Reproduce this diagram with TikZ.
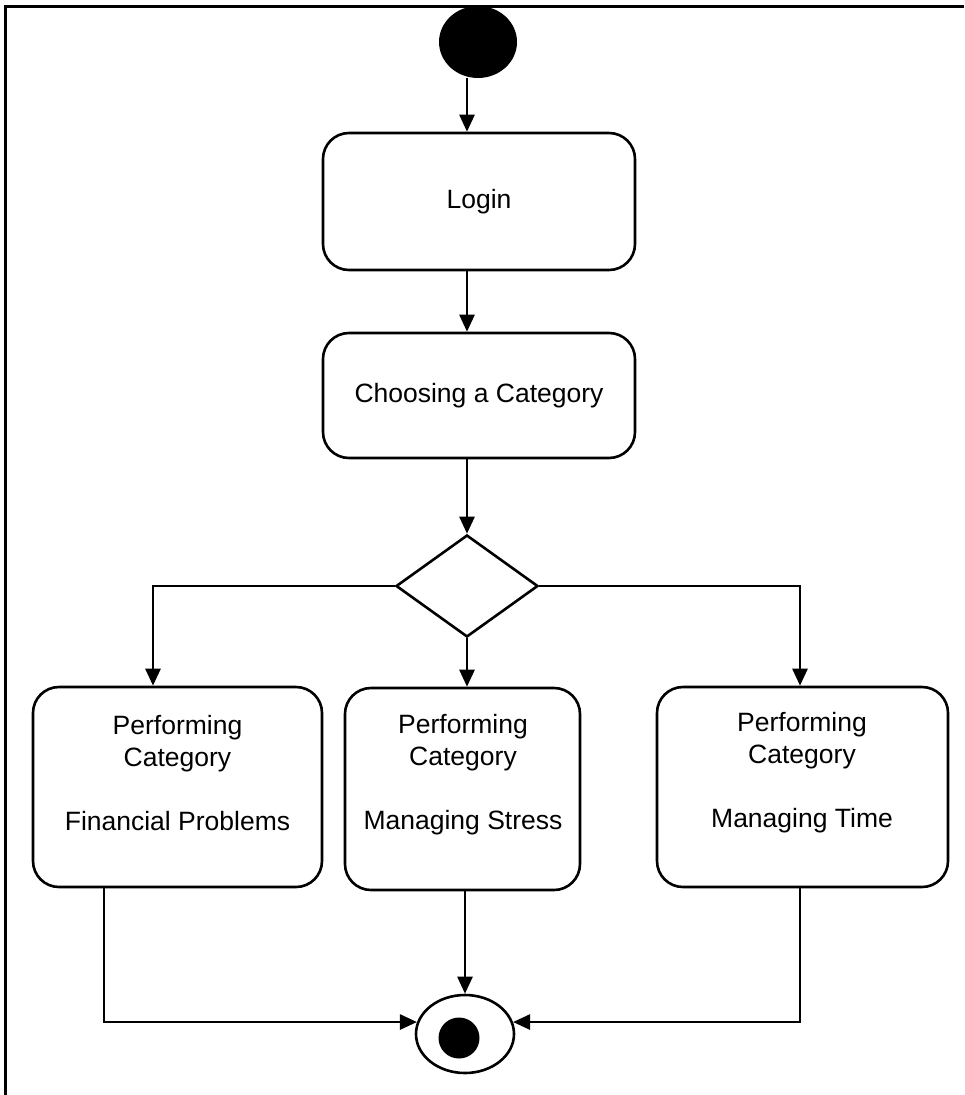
\documentclass[tikz,border=0pt]{standalone}
\usepackage{fontspec}
\setmainfont{Liberation Sans}
\usetikzlibrary{shapes.geometric,arrows.meta}
\begin{document}
\begin{tikzpicture}[x=1pt,y=-1pt,
  every node/.style={font=\fontsize{26.5}{32}\selectfont},
  actbox/.style={draw,line width=2.6pt,rectangle,rounded corners=26pt,inner sep=0pt},
  lbl/.style={align=center,inner sep=0pt},
  arr/.style={line width=2.6pt,-{Triangle[length=17pt,width=15pt]}}]
\useasboundingbox (0,0) rectangle (964,1095);
\draw[line width=3pt] (5,1095) -- (5,6) -- (964,6);
% start
\node[ellipse,fill=black,inner sep=0pt,minimum width=78pt,minimum height=72pt] (start) at (478,42) {};
% boxes
\node[actbox,minimum width=312pt,minimum height=137pt] (login) at (479,201.5) {Login};
\node[actbox,minimum width=312pt,minimum height=125pt] (choose) at (479,395.5) {Choosing a Category};
\node[diamond,draw,line width=2.6pt,inner sep=0pt,aspect=1.4,minimum width=142pt,minimum height=102pt] (dia) at (467,586) {};
\node[actbox,minimum width=289pt,minimum height=200pt] (fin) at (177.5,787) {};
\node[actbox,minimum width=235pt,minimum height=202pt] (mid) at (462.5,789) {};
\node[actbox,minimum width=291pt,minimum height=200pt] (rt) at (802.5,787) {};
\node[lbl] (fintext) at (177.5,773) {Performing\\Category\\[32pt]Financial Problems};
\node[lbl] (midtext) at (463,775) {Performing\\Category\\[32pt]Managing Stress};
\node[lbl] (rttext) at (802,773) {Performing\\Category\\[32pt]Managing Time};
% end
\node[ellipse,draw,line width=2.6pt,fill=white,inner sep=0pt,minimum width=98pt,minimum height=78pt] (end) at (465,1034) {};
\node[circle,fill=black,inner sep=0pt,minimum size=41pt] (endin) at (459,1038) {};
% connectors
\draw[arr] ([xshift=-11pt]start.south) -- ([xshift=-12pt]login.north);
\draw[arr] ([xshift=-12pt]login.south) -- ([xshift=-12pt]choose.north);
\draw[arr] (dia.north |- choose.south) -- (dia.north);
\draw[arr] (dia.west) -| ([xshift=-24.5pt]fin.north);
\draw[arr] (dia.south) -- (dia.south |- mid.north);
\draw[arr] (dia.east) -| ([xshift=-2.5pt]rt.north);
\draw[arr] ([xshift=-73.5pt]fin.south) |- (end.166);
\draw[arr] ([xshift=-2.5pt]rt.south) |- (end.14);
\draw[arr] (end.north |- mid.south) -- (end.north);
\end{tikzpicture}
\end{document}
